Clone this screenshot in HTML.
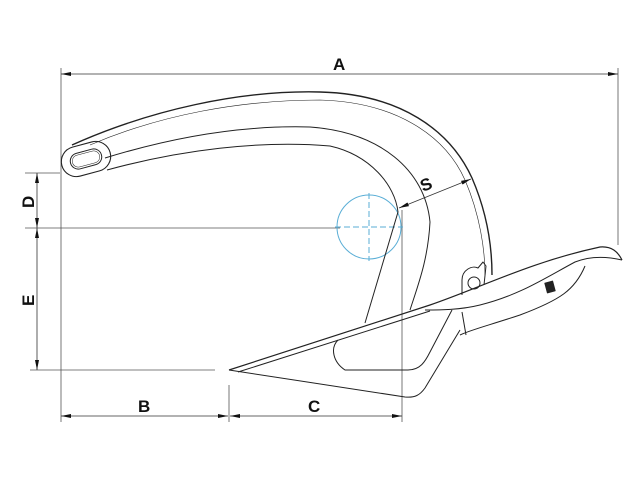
<!DOCTYPE html>
<html><head><style>
html,body{margin:0;padding:0;background:#fff;}
svg{display:block;}
text{font-family:"Liberation Sans",sans-serif;font-weight:bold;font-size:17px;fill:#111;}
</style></head><body>
<svg width="640" height="480" viewBox="0 0 640 480" xmlns="http://www.w3.org/2000/svg">
<defs>
<marker id="ar" markerWidth="10" markerHeight="6" refX="10" refY="3" orient="auto-start-reverse" markerUnits="userSpaceOnUse">
<path d="M0,1 L10,3 L0,5 Z" fill="#111"/></marker>
</defs>
<g stroke="#555" stroke-width="0.8" fill="none">
<line x1="61" y1="68" x2="61" y2="422"/>
<line x1="618" y1="68" x2="618" y2="245"/>
<line x1="25" y1="173" x2="60" y2="173"/>
<line x1="25" y1="228" x2="340" y2="228"/>
<line x1="30" y1="370" x2="215" y2="370"/>
<line x1="229" y1="385" x2="229" y2="422"/>
<line x1="402" y1="210" x2="402" y2="422"/>
</g>
<g stroke="#333" stroke-width="0.8" fill="none">
<line x1="61" y1="74" x2="618" y2="74" marker-start="url(#ar)" marker-end="url(#ar)"/>
<line x1="37" y1="173" x2="37" y2="228" marker-start="url(#ar)" marker-end="url(#ar)"/>
<line x1="37" y1="228" x2="37" y2="370" marker-start="url(#ar)" marker-end="url(#ar)"/>
<line x1="61" y1="416" x2="228" y2="416" marker-start="url(#ar)" marker-end="url(#ar)"/>
<line x1="230" y1="416" x2="402" y2="416" marker-start="url(#ar)" marker-end="url(#ar)"/>
<line x1="399" y1="208" x2="471" y2="179" marker-start="url(#ar)" marker-end="url(#ar)"/>
</g>
<text x="333" y="70">A</text>
<text x="138" y="412">B</text>
<text x="308" y="412">C</text>
<text x="0" y="0" transform="translate(34,208) rotate(-90)">D</text>
<text x="0" y="0" transform="translate(34,306) rotate(-90)">E</text>
<text x="0" y="0" transform="translate(423,192) rotate(-22)">S</text>
<g stroke="#5aaed6" stroke-width="1" fill="none">
<circle cx="369" cy="227" r="32"/>
<line x1="335" y1="227" x2="403" y2="227" stroke-dasharray="6,3"/>
<line x1="369" y1="193" x2="369" y2="261" stroke-dasharray="6,3"/>
</g>
<g stroke="#222" stroke-width="1" fill="none" stroke-linejoin="round">
<path d="M72,145 C150,110 240,90 320,92 C400,94 450,130 472,178 C488,215 492,250 492,275" stroke-width="1.4"/>
<path d="M90,145 C160,115 240,100 320,100 C395,102 445,135 465,180 C480,215 485,250 485,275" stroke-width="0.6"/>
<!-- lower shank line -> left leg -->
<path d="M107,170 C180,150 260,140 330,146 C370,155 395,185 398,212 L365,323"/>
<!-- upper shank lower edge -> right leg -->
<path d="M105,158 C170,138 240,125 310,127 C380,132 425,170 430,222 C428,260 418,285 410,310"/>
<rect x="61" y="144" width="50" height="30" rx="15" transform="rotate(-15 86 159)" stroke-width="1.1"/>
<rect x="70" y="151" width="32" height="16" rx="8" transform="rotate(-15 86 159)"/>
<rect x="72" y="153" width="28" height="12" rx="6" transform="rotate(-15 86 159)" stroke-width="0.5"/>
<path d="M229,370 L430,305 C480,288 530,262 600,247 C612,246 618,252 622,260" stroke-width="1.2"/>
<path d="M238,372 L430,311"/>
<path d="M622,260 C605,256 590,256 575,262 C545,278 520,295 480,305 C460,310 440,310 425,310"/>
<path d="M229,370 L405,397 C415,398 420,395 425,388 L460,330"/>
<path d="M338,340 C330,348 333,362 345,370 L408,370 C420,370 425,362 430,352 L452,310"/>
<path d="M585,266 C575,290 560,300 520,315 C490,325 470,330 460,335"/>
<path d="M462,312 L466,335"/>
<path d="M462,295 L462,280 C462,270 472,265 478,268 L483,262 L486,266 L484,285"/>
<circle cx="474" cy="283" r="6"/>
<rect x="546" y="282" width="8" height="10" fill="#222" transform="rotate(-15 550 287)"/>
</g>
</svg>
</body></html>
